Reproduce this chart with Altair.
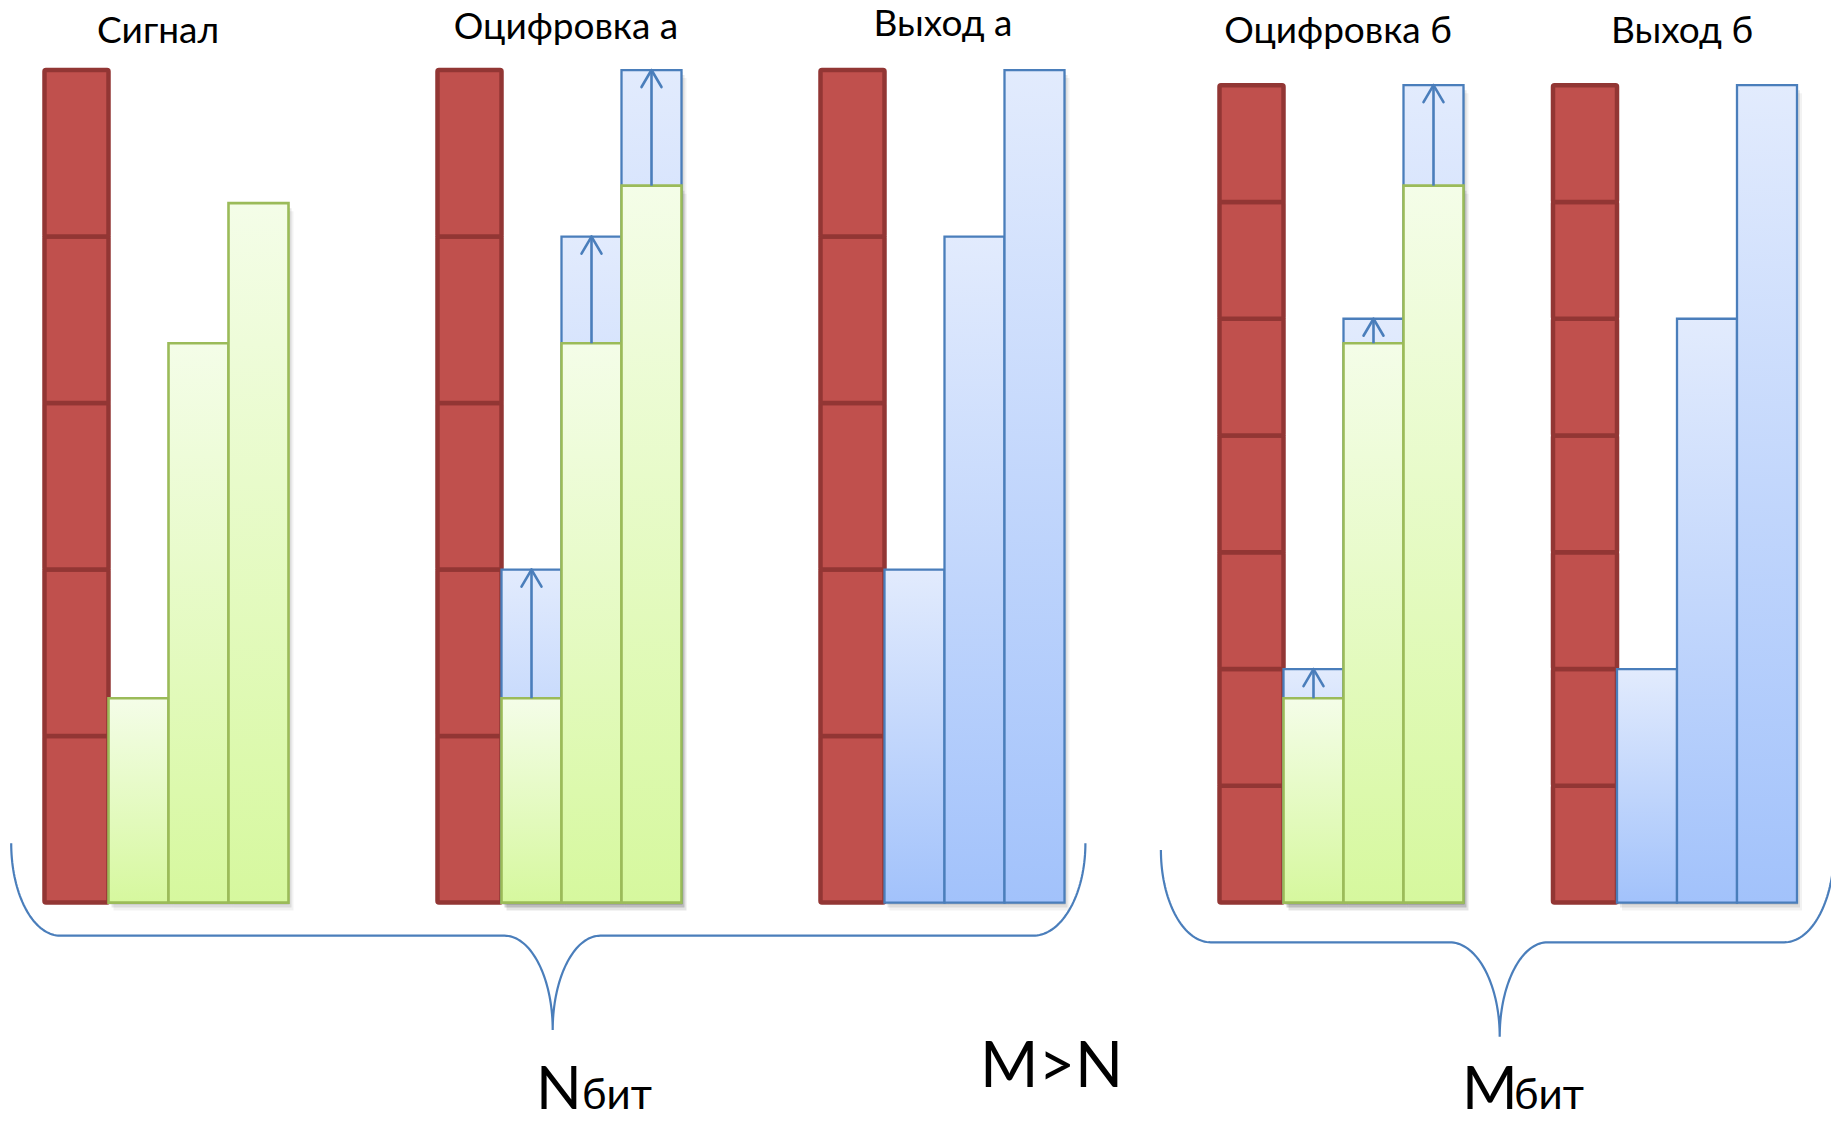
import altair as alt
import pandas as pd
import numpy as np

# ------------------------------------------------------------------ data
panel_titles   = ["Сигнал", "Оцифровка а", "Выход а", "Оцифровка б", "Выход б"]
signal_shown   = [1.75, 4.79, 5.99]   # signal samples drawn in panel "Сигнал"
signal_sampled = [1.75, 4.79, 6.14]   # signal samples drawn in the digitisation panels
codes_a        = [2, 4, 5]            # N-bit quantiser output (steps)
codes_b        = [2, 5, 7]            # M-bit quantiser output (steps)
steps_a        = 5                    # quantisation steps, N bits
steps_b        = 7                    # quantisation steps, M bits
full_scale_a   = 7.13                 # full-scale range, quantiser a
full_scale_b   = 7.00                 # full-scale range, quantiser b
bottom_left_labels = ["N", "бит", "M", "бит"]
middle_label   = "M>N"

# ------------------------------------------------------------------ layout
W, H = 1831, 1121
BASE_PX, UNIT_PX = 902.6, 116.77


def uy(px):
    return (BASE_PX - px) / UNIT_PX


group_x0 = [44.5, 437.5, 820.5, 1219.5, 1553.0]
RED_W, BAR_W = 64, 60
title_x = [158, 566, 943, 1338, 1682]
title_base_px = [43, 39, 36, 43, 43]
FONT = "Lato, Open Sans, sans-serif"

step_a = full_scale_a / steps_a
step_b = full_scale_b / steps_b
quant_a = [c * step_a for c in codes_a]
quant_b = [c * step_b for c in codes_b]

panel_scale = ["a", "a", "a", "b", "b"]
panel_green = {0: signal_shown, 1: signal_sampled, 3: signal_sampled}
panel_blue = {1: quant_a, 2: quant_a, 3: quant_b, 4: quant_b}
panel_arrows = [1, 3]

# red level columns
red_rows = []
for p in range(5):
    n = steps_a if panel_scale[p] == "a" else steps_b
    st = step_a if panel_scale[p] == "a" else step_b
    for k in range(n):
        red_rows.append(dict(x=group_x0[p], x2=group_x0[p] + RED_W, y=k * st, y2=(k + 1) * st))
red_df = pd.DataFrame(red_rows)


def bar_x(p, i):
    return group_x0[p] + RED_W + i * BAR_W


blue_rows, green_rows, shadow_rows = [], [], []
for p, vals in panel_blue.items():
    for i, v in enumerate(vals):
        blue_rows.append(dict(x=bar_x(p, i), x2=bar_x(p, i) + BAR_W, y=0, y2=v))
for p, vals in panel_green.items():
    for i, v in enumerate(vals):
        green_rows.append(dict(x=bar_x(p, i), x2=bar_x(p, i) + BAR_W, y=0, y2=v))
blue_df = pd.DataFrame(blue_rows)
green_df = pd.DataFrame(green_rows)

for r in blue_rows + green_rows:
    for dx, dy, op in [(1, 2, 0.13), (3, 5, 0.09), (5, 8, 0.05)]:
        shadow_rows.append(dict(x=r["x"] + dx, x2=r["x2"] + dx,
                                y=r["y"] - dy / UNIT_PX, y2=r["y2"] - dy / UNIT_PX, o=op))
shadow_df = pd.DataFrame(shadow_rows)

arrow_rows, head_rows = [], []
for p in panel_arrows:
    q = quant_a if panel_scale[p] == "a" else quant_b
    for i in range(3):
        xc = bar_x(p, i) + BAR_W / 2
        arrow_rows.append(dict(x=xc, y=signal_sampled[i], y2=q[i]))
        for s in (-1, 1):
            head_rows.append(dict(x=xc, x2=xc + s * 10, y=q[i], y2=q[i] - 17 / UNIT_PX))
arrow_df = pd.DataFrame(arrow_rows)
head_df = pd.DataFrame(head_rows)


# braces (quarter-ellipse cubic curves joined by straight lines)
def qcurve(p0, p3, start_vertical, n=40):
    k = 0.5523
    if start_vertical:
        p1 = (p0[0], p0[1] + k * (p3[1] - p0[1]))
        p2 = (p3[0] - k * (p3[0] - p0[0]), p3[1])
    else:
        p1 = (p0[0] + k * (p3[0] - p0[0]), p0[1])
        p2 = (p3[0], p3[1] - k * (p3[1] - p0[1]))
    t = np.linspace(0, 1, n)
    pts = []
    for tt in t:
        a, b, c, d = (1 - tt) ** 3, 3 * (1 - tt) ** 2 * tt, 3 * (1 - tt) * tt ** 2, tt ** 3
        pts.append((a * p0[0] + b * p1[0] + c * p2[0] + d * p3[0],
                    a * p0[1] + b * p1[1] + c * p2[1] + d * p3[1]))
    return pts


def brace(A, B, C, T, D, E, F):
    pts = []
    pts += qcurve(A, B, True)
    pts += [C]
    pts += qcurve(C, T, False)
    pts += qcurve(T, D, True)
    pts += [E]
    pts += qcurve(E, F, False)
    return pts


brace_rows = []
braces = [
    brace((11.2, 843.3), (60.3, 935.7), (504.5, 935.7), (552.7, 1030.0),
          (600.4, 935.7), (1033.0, 935.7), (1085.4, 843.3)),
    brace((1160.9, 850.0), (1210.8, 942.3), (1449.7, 942.3), (1499.7, 1036.7),
          (1547.5, 942.3), (1784.2, 942.3), (1834.0, 850.0)),
]
for bi, pts in enumerate(braces):
    for j, (px, py) in enumerate(pts):
        brace_rows.append(dict(b=bi, i=j, x=px, y=uy(py)))
brace_df = pd.DataFrame(brace_rows)

title_df = pd.DataFrame(dict(t=panel_titles, x=title_x, y=[uy(v) for v in title_base_px]))
bl_df = pd.DataFrame(dict(t=bottom_left_labels,
                          x=[536, 582, 1462, 1514],
                          y=[uy(1109)] * 4,
                          s=[60, 42, 60, 42]))
mid_df = pd.DataFrame(dict(t=[middle_label], x=[1051.5], y=[uy(1086.7)]))

# ------------------------------------------------------------------ chart
XS = alt.Scale(domain=[0, W], nice=False, zero=False)
YS = alt.Scale(domain=[uy(H), uy(0)], nice=False, zero=False)


def enc_rect():
    return dict(x=alt.X("x:Q", scale=XS, axis=None), x2="x2:Q",
                y=alt.Y("y:Q", scale=YS, axis=None), y2="y2:Q")


green_grad = alt.LinearGradient(gradient="linear", x1=0, x2=0, y1=0, y2=1,
                                stops=[alt.GradientStop(color="#f4fde8", offset=0),
                                       alt.GradientStop(color="#d6f89e", offset=1)])
blue_grad = alt.LinearGradient(gradient="linear", x1=0, x2=0, y1=0, y2=1,
                               stops=[alt.GradientStop(color="#e2ebfd", offset=0),
                                      alt.GradientStop(color="#a2c2fb", offset=1)])

shadow = alt.Chart(shadow_df).mark_rect(fill="#000000").encode(
    **enc_rect(), opacity=alt.Opacity("o:Q", scale=None))
red = alt.Chart(red_df).mark_rect(fill="#c0504d", stroke="#923634", strokeWidth=4.5,
                                  cornerRadius=1.5).encode(**enc_rect())
blue = alt.Chart(blue_df).mark_rect(fill=blue_grad, stroke="#4a7ebb",
                                    strokeWidth=2.3).encode(**enc_rect())
green = alt.Chart(green_df).mark_rect(fill=green_grad, stroke="#9bbb59",
                                      strokeWidth=2.6).encode(**enc_rect())
arrows = alt.Chart(arrow_df).mark_rule(color="#4a7ebb", strokeWidth=2.6).encode(
    x=alt.X("x:Q", scale=XS, axis=None), y=alt.Y("y:Q", scale=YS, axis=None), y2="y2:Q")
heads = alt.Chart(head_df).mark_rule(color="#4a7ebb", strokeWidth=2.6, strokeCap="round").encode(
    **enc_rect())
brace_lines = alt.Chart(brace_df).mark_line(color="#4a7ebb", strokeWidth=2.2).encode(
    x=alt.X("x:Q", scale=XS, axis=None), y=alt.Y("y:Q", scale=YS, axis=None),
    detail="b:N", order="i:Q")
titles = alt.Chart(title_df).mark_text(font=FONT, fontSize=37, align="center",
                                       baseline="alphabetic", color="#000000").encode(
    x=alt.X("x:Q", scale=XS, axis=None), y=alt.Y("y:Q", scale=YS, axis=None), text="t:N")
bottom_left = alt.Chart(bl_df).mark_text(font=FONT, align="left", baseline="alphabetic",
                                         color="#000000").encode(
    x=alt.X("x:Q", scale=XS, axis=None), y=alt.Y("y:Q", scale=YS, axis=None), text="t:N",
    size=alt.Size("s:Q", scale=None))
middle = alt.Chart(mid_df).mark_text(font=FONT, fontSize=63, align="center",
                                     baseline="alphabetic", color="#000000").encode(
    x=alt.X("x:Q", scale=XS, axis=None), y=alt.Y("y:Q", scale=YS, axis=None), text="t:N")

chart = alt.layer(shadow, red, blue, green, arrows, heads, brace_lines,
                  titles, bottom_left, middle).properties(
    width=W, height=H, autosize=alt.AutoSizeParams(type="none"), padding=0,
    background="#ffffff"
).configure_view(stroke=None)

chart.save("out.html", embed_options={"renderer": "svg", "actions": False})
